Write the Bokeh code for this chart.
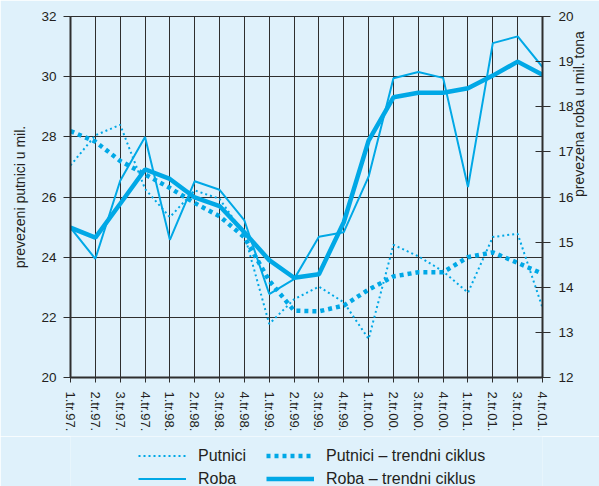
import math
from bokeh.plotting import figure
from bokeh.layouts import column
from bokeh.models import Range1d, LinearAxis, FixedTicker, Legend, LegendItem
from bokeh.embed import file_html
from bokeh.resources import INLINE

quarters = ["1.tr.97.", "2.tr.97.", "3.tr.97.", "4.tr.97.",
            "1.tr.98.", "2.tr.98.", "3.tr.98.", "4.tr.98.",
            "1.tr.99.", "2.tr.99.", "3.tr.99.", "4.tr.99.",
            "1.tr.00.", "2.tr.00.", "3.tr.00.", "4.tr.00.",
            "1.tr.01.", "2.tr.01.", "3.tr.01.", "4.tr.01."]
putnici = [27.05, 28.05, 28.40, 26.27, 25.33, 26.22, 25.94, 24.75, 21.78, 22.60,
           23.02, 22.50, 21.28, 24.41, 24.03, 23.53, 22.82, 24.67, 24.78, 22.32]
putnici_trend = [28.19, 27.84, 27.20, 26.75, 26.30, 25.80, 25.36, 24.66, 23.22, 22.22,
                 22.20, 22.39, 22.92, 23.36, 23.50, 23.50, 24.00, 24.16, 23.81, 23.45]
roba = [15.32, 14.63, 16.36, 17.33, 15.05, 16.35, 16.16, 15.48, 13.85, 14.18,
        15.12, 15.22, 16.45, 18.63, 18.77, 18.64, 16.22, 19.41, 19.56, 18.88]
roba_trend = [15.32, 15.10, 15.85, 16.61, 16.40, 15.99, 15.80, 15.22, 14.60, 14.21,
              14.29, 15.44, 17.25, 18.21, 18.31, 18.31, 18.41, 18.69, 19.00, 18.71]
left_ticks = [20, 22, 24, 26, 28, 30, 32]
right_ticks = [12, 13, 14, 15, 16, 17, 18, 19, 20]
left_title = "prevezeni putnici u mil."
right_title = "prevezena roba u mil. tona"
legend_labels = ["Putnici", "Putnici – trendni ciklus", "Roba", "Roba – trendni ciklus"]

BG = "#dff1fb"
LINE = "#00a8e6"
GRID = "#2e2e2e"
TXT = "#231f20"
FONT = "Liberation Sans"

x = list(range(len(quarters)))

p = figure(width=599, height=436,
           x_range=Range1d(0, len(quarters) - 1),
           y_range=Range1d(left_ticks[0], left_ticks[-1]),
           output_backend="svg", toolbar_location=None,
           min_border_left=70, min_border_right=57,
           min_border_top=16, min_border_bottom=59,
           background_fill_color=BG, border_fill_color=BG,
           outline_line_color=GRID, outline_line_width=1)
p.extra_y_ranges = {"right": Range1d(right_ticks[0], right_ticks[-1])}

# x axis
xa = p.xaxis[0]
xa.ticker = FixedTicker(ticks=x)
xa.major_label_overrides = {i: q for i, q in enumerate(quarters)}
xa.major_label_orientation = "vertical"
xa.major_tick_out = 5
xa.major_tick_in = 0
xa.minor_tick_line_color = None
xa.major_label_standoff = 9
xa.axis_line_width = 2
xa.axis_line_color = GRID
xa.major_tick_line_color = GRID
xa.major_label_text_font = FONT
xa.major_label_text_font_size = "13px"
xa.major_label_text_color = TXT

# left axis
ya = p.yaxis[0]
ya.ticker = FixedTicker(ticks=left_ticks)
ya.major_tick_out = 7
ya.major_tick_in = 0
ya.minor_tick_line_color = None
ya.major_label_standoff = 7
ya.axis_line_width = 2
ya.axis_line_color = GRID
ya.major_tick_line_color = GRID
ya.major_label_text_font = FONT
ya.major_label_text_font_size = "13.5px"
ya.major_label_text_color = TXT
ya.axis_label = left_title
ya.axis_label_text_font = FONT
ya.axis_label_text_font_style = "normal"
ya.axis_label_text_font_size = "14px"
ya.axis_label_text_color = TXT
ya.axis_label_standoff = 10

# right axis
ra = LinearAxis(y_range_name="right", ticker=FixedTicker(ticks=right_ticks))
ra.major_tick_out = 8
ra.major_tick_in = 7
ra.minor_tick_line_color = None
ra.major_label_standoff = 8
ra.axis_line_width = 2
ra.axis_line_color = GRID
ra.major_tick_line_color = GRID
ra.major_label_text_font = FONT
ra.major_label_text_font_size = "13.5px"
ra.major_label_text_color = TXT
ra.axis_label = right_title
ra.axis_label_orientation = math.pi / 2
ra.axis_label_text_font = FONT
ra.axis_label_text_font_style = "normal"
ra.axis_label_text_font_size = "14px"
ra.axis_label_text_color = TXT
ra.axis_label_standoff = 2
p.add_layout(ra, "right")

# grids
p.xgrid.ticker = FixedTicker(ticks=x)
p.xgrid.grid_line_color = GRID
p.xgrid.grid_line_width = 1
p.ygrid.ticker = FixedTicker(ticks=left_ticks)
p.ygrid.grid_line_color = GRID
p.ygrid.grid_line_width = 1

# series
styles = [dict(line_width=2, line_dash="2 3"),
          dict(line_width=4.5, line_dash="4 4"),
          dict(line_width=2, line_dash="solid"),
          dict(line_width=4.5, line_dash="solid")]
series = [putnici, putnici_trend, roba, roba_trend]
p.line(x, putnici, line_color=LINE, **styles[0])
p.line(x, putnici_trend, line_color=LINE, **styles[1])
p.line(x, roba, y_range_name="right", line_color=LINE, **styles[2])
p.line(x, roba_trend, y_range_name="right", line_color=LINE, **styles[3])

# legend strip below the chart (its lines lie outside its view; only the key shows)
pl = figure(width=599, height=50, x_range=Range1d(0, 1), y_range=Range1d(0, 1),
            x_axis_type=None, y_axis_type=None,
            output_backend="svg", toolbar_location=None,
            min_border=0, background_fill_color=BG, border_fill_color=BG,
            outline_line_color=None)
pl.grid.visible = False
items = []
for lab, st, ser in zip(legend_labels, styles, series):
    r = pl.line(x, ser, line_color=LINE, **st)
    items.append(LegendItem(label=lab, renderers=[r]))

legend = Legend(items=items, location=(68, -2), orientation="horizontal", ncols=2,
                glyph_width=48, glyph_height=19, label_height=19, label_width=64,
                label_standoff=12, spacing=4, padding=0, margin=0,
                border_line_color=None, background_fill_alpha=0,
                label_text_font=FONT, label_text_font_size="16px",
                label_text_color=TXT)
pl.add_layout(legend, "center")

layout = column(p, pl, spacing=0)
open("out.html", "w").write(file_html(layout, INLINE))
